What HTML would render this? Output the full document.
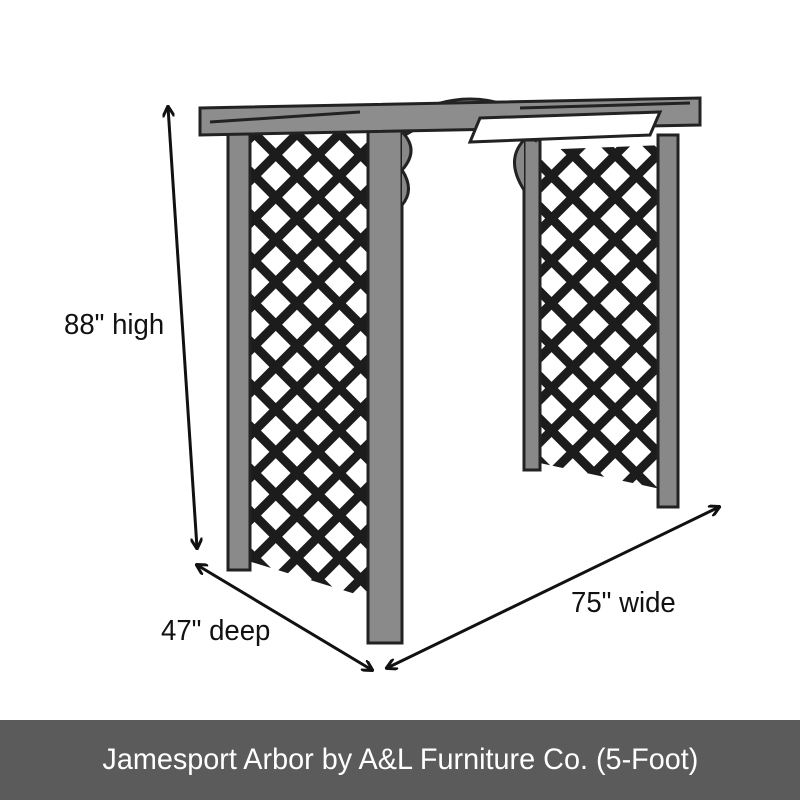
<!DOCTYPE html>
<html><head><meta charset="utf-8"><style>
body{margin:0;width:800px;height:800px;background:#fff;overflow:hidden;position:relative;font-family:"Liberation Sans",sans-serif}
.t{position:absolute;font-size:29px;color:#111;transform:scaleX(0.95);transform-origin:left top}
.band{position:absolute;left:0;top:720px;width:800px;height:80px;background:#5b5b5b;color:#fff;font-size:30px;text-align:center;line-height:80px}
.band span{display:inline-block;transform:scaleX(0.96)}
</style></head><body>
<svg width="800" height="720" style="position:absolute;left:0;top:0">
<defs>
<pattern id="lat" width="30" height="30" patternUnits="userSpaceOnUse" patternTransform="rotate(45)">
<rect width="30" height="30" fill="#fff"/>
<rect x="0" y="0" width="9" height="30" fill="#1c1c1c"/>
<rect x="0" y="0" width="30" height="9" fill="#1c1c1c"/>
</pattern>
<marker id="ah" markerWidth="12" markerHeight="12" refX="10" refY="6" orient="auto-start-reverse" markerUnits="userSpaceOnUse"><path d="M0,0 L11,6 L0,12" fill="none" stroke="#111" stroke-width="3"/></marker>
</defs>
<polygon points="535,150 665,145 665,490 535,462" fill="url(#lat)"/>
<rect x="524" y="140" width="16" height="330" fill="#888" stroke="#222" stroke-width="3"/>
<rect x="658" y="135" width="20" height="372" fill="#888" stroke="#222" stroke-width="3"/>
<polygon points="245,130 375,118 375,600 245,560" fill="url(#lat)"/>
<rect x="228" y="125" width="22" height="445" fill="#8a8a8a" stroke="#222" stroke-width="3"/>
<rect x="368" y="105" width="34" height="538" fill="#8a8a8a" stroke="#222" stroke-width="3"/>
<path d="M405,135 Q470,95 535,140 L535,118 Q470,80 405,118Z" fill="#888" stroke="#222" stroke-width="3"/>
<polygon points="200,108 700,98 700,125 200,135" fill="#8d8d8d" stroke="#222" stroke-width="3"/>
<polygon points="480,118 660,112 650,135 470,142" fill="#fff" stroke="#222" stroke-width="3"/>
<path d="M210,122 L360,112 M520,108 L690,103" stroke="#222" stroke-width="3"/>
<path d="M402,132 Q420,150 402,170 Q415,190 402,205" fill="#888" stroke="#222" stroke-width="3"/>
<path d="M524,140 Q505,160 524,190" fill="#888" stroke="#222" stroke-width="3"/>
<line x1="168" y1="107" x2="197" y2="548" stroke="#111" stroke-width="3" marker-end="url(#ah)" marker-start="url(#ah)"/>
<line x1="197" y1="565" x2="372" y2="670" stroke="#111" stroke-width="3" marker-end="url(#ah)" marker-start="url(#ah)"/>
<line x1="387" y1="668" x2="719" y2="507" stroke="#111" stroke-width="3" marker-end="url(#ah)" marker-start="url(#ah)"/>
</svg>
<div class="t" style="left:64px;top:309px">88" high</div>
<div class="t" style="left:161px;top:615px">47" deep</div>
<div class="t" style="left:571px;top:587px">75" wide</div>
<div class="band"><span>Jamesport Arbor by A&amp;L Furniture Co. (5-Foot)</span></div>
</body></html>
